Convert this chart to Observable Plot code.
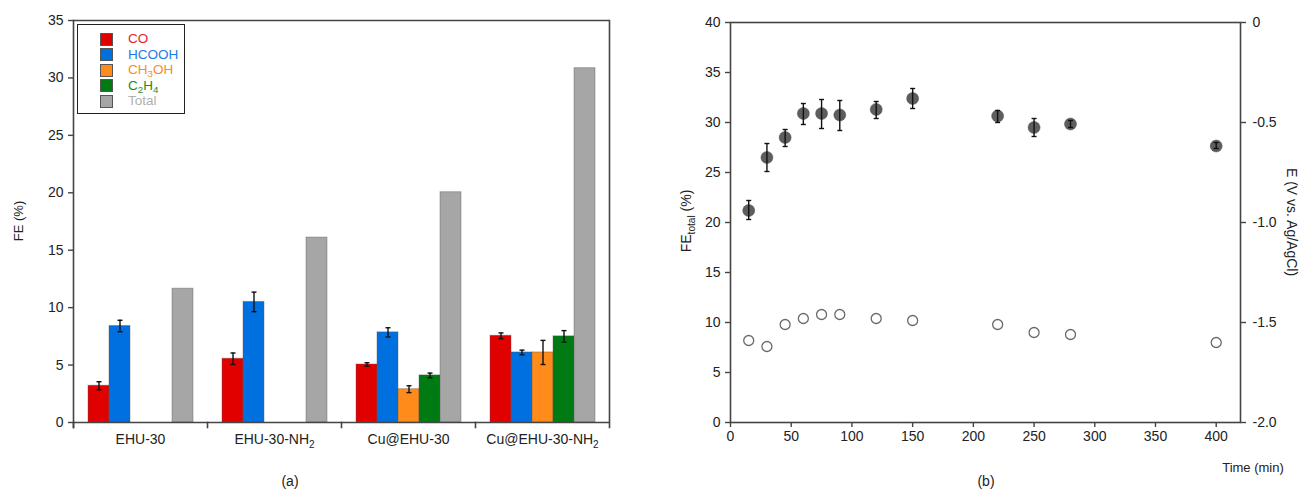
<!DOCTYPE html>
<html>
<head>
<meta charset="utf-8">
<script src="https://cdn.jsdelivr.net/npm/d3@7"></script>
<script src="https://cdn.jsdelivr.net/npm/@observablehq/plot@0.6"></script>
<style>
  html, body { margin: 0; padding: 0; background: #fff; }
  #wrap { position: relative; width: 1299px; height: 492px; font-family: "Liberation Sans", Arial, sans-serif; color: #222; }
  #wrap > .panel { position: absolute; top: 0; }
  .lbl { position: absolute; font-size: 13px; white-space: nowrap; line-height: 1; }
  sub { font-size: 0.72em; vertical-align: -0.35em; line-height: 0; }
  #legend { position: absolute; left: 77px; top: 24px; width: 108px; height: 90px; border: 1.5px solid #222; background: #fff; box-sizing: border-box; font-size: 13.5px; }
  #legend .row { position: absolute; left: 0; height: 14px; display: flex; align-items: center; }
  #legend .sw { position: absolute; left: 22px; width: 11px; height: 11px; border: 1px solid #555; }
  #legend .tx { position: absolute; left: 50px; line-height: 1; white-space: nowrap; }
</style>
</head>
<body>
<div id="wrap"></div>
<script>
// ---------- Data: panel (a) ----------
const categories = ["EHU-30", "EHU-30-NH₂", "Cu@EHU-30", "Cu@EHU-30-NH₂"];
const products = ["CO", "HCOOH", "CH₃OH", "C₂H₄", "Total"];
const feCO     = [3.2, 5.55, 5.05, 7.55];
const errCO    = [0.35, 0.5, 0.15, 0.25];
const feHCOOH  = [8.4, 10.5, 7.85, 6.1];
const errHCOOH = [0.5, 0.85, 0.4, 0.2];
const feCH3OH  = [null, null, 2.9, 6.1];
const errCH3OH = [null, null, 0.3, 1.05];
const feC2H4   = [null, null, 4.1, 7.5];
const errC2H4  = [null, null, 0.2, 0.5];
const feTotal  = [11.65, 16.1, 20.05, 30.85];

// ---------- Data: panel (b) ----------
const timeMin   = [15, 30, 45, 60, 75, 90, 120, 150, 220, 250, 280, 400];
const feTotalT  = [21.2, 26.5, 28.5, 30.9, 30.9, 30.75, 31.3, 32.4, 30.65, 29.5, 29.85, 27.65];
const feTotLow  = [20.3, 25.1, 27.6, 29.8, 29.4, 29.2, 30.4, 31.4, 30.0, 28.6, 29.5, 27.4];
const feTotHigh = [22.2, 27.9, 29.3, 31.9, 32.3, 32.2, 32.1, 33.4, 31.2, 30.4, 30.2, 28.0];
const potentialE = [-1.59, -1.62, -1.51, -1.48, -1.46, -1.46, -1.48, -1.49, -1.51, -1.55, -1.56, -1.60];
const eTicks = [0, -0.5, -1.0, -1.5, -2.0];

// ---------- Styles ----------
const productColors = ["#e00000", "#0070e0", "#ff8c1a", "#007a12", "#a6a6a6"];
const productTextColors = ["#e8232a", "#1a7be6", "#f98b28", "#1f8a28", "#b0b0b0"];
const fontFamily = '"Liberation Sans", Arial, sans-serif';
const axisColor = "#444";

const feSeries = [feCO, feHCOOH, feCH3OH, feC2H4, feTotal];
const errSeries = [errCO, errHCOOH, errCH3OH, errC2H4, null];
const rows = [];
categories.forEach((cat, i) => products.forEach((prod, j) => {
  const fe = feSeries[j][i];
  if (fe == null) return;
  const err = errSeries[j] ? errSeries[j][i] : null;
  rows.push({cat, prod, fe, err});
}));
const errRows = rows.filter(d => d.err != null);

// horizontal cap symbol for error bars
const capSymbol = {draw(ctx, size) { const r = Math.sqrt(size / Math.PI); ctx.moveTo(-r, 0); ctx.lineTo(r, 0); }};

const wrap = document.getElementById("wrap");

// ---------- Panel (a) ----------
const plotA = Plot.plot({
  width: 650, height: 492,
  marginLeft: 73, marginRight: 41, marginTop: 20, marginBottom: 70,
  style: {fontFamily, fontSize: "14px", color: "#222", background: "transparent", overflow: "visible"},
  fx: {domain: categories, padding: 0, label: null},
  x: {domain: products, paddingInner: 0, paddingOuter: 0.625, axis: null},
  y: {domain: [0, 35], label: null},
  color: {domain: products, range: productColors},
  marks: [
    Plot.barY(rows, {fx: "cat", x: "prod", y: "fe", fill: "prod", stroke: "#555", strokeOpacity: 0.4, strokeWidth: 1}),
    Plot.ruleX(errRows, {fx: "cat", x: "prod", y1: d => d.fe - d.err, y2: d => d.fe + d.err, stroke: "#111", strokeWidth: 1.4}),
    Plot.dot(errRows, {fx: "cat", x: "prod", y: d => d.fe - d.err, symbol: capSymbol, r: 2.5, stroke: "#111", strokeWidth: 1.4}),
    Plot.dot(errRows, {fx: "cat", x: "prod", y: d => d.fe + d.err, symbol: capSymbol, r: 2.5, stroke: "#111", strokeWidth: 1.4}),
    Plot.ruleY([0], {stroke: axisColor, strokeWidth: 1.6}),
    Plot.ruleY([35], {stroke: axisColor, strokeWidth: 1.6}),
    Plot.frame({anchor: "left", facetAnchor: "left", insetBottom: -5, stroke: axisColor, strokeWidth: 1.6}),
    Plot.frame({anchor: "right", facetAnchor: "right", insetBottom: -5, stroke: axisColor, strokeWidth: 1.6}),
    Plot.frame({anchor: "left", insetTop: 402, insetBottom: -5, stroke: axisColor, strokeWidth: 1.6}),
    Plot.axisY({ticks: d3.range(0, 36, 5), tickSize: 5, tickPadding: 5, label: null, stroke: axisColor, strokeWidth: 1.4}),
    Plot.axisFx({anchor: "bottom", tickSize: 0, tickPadding: 12, label: null})
  ]
});
plotA.classList.add("panel");
plotA.style.left = "0px";
wrap.appendChild(plotA);

// ---------- Panel (b) ----------
const tRows = timeMin.map((t, i) => ({t, fe: feTotalT[i], lo: feTotLow[i], hi: feTotHigh[i], E: potentialE[i]}));
const eToFe = e => (e + 2) * 20; // right axis (E, V) mapped onto the FE scale
const plotB = Plot.plot({
  width: 649, height: 492,
  marginLeft: 80, marginRight: 59, marginTop: 22, marginBottom: 70,
  style: {fontFamily, fontSize: "14px", color: "#222", background: "transparent", overflow: "visible"},
  x: {domain: [0, 420], label: null},
  y: {domain: [0, 40], label: null},
  marks: [
    Plot.frame({stroke: axisColor, strokeWidth: 1.6}),
    Plot.axisY({anchor: "left", ticks: d3.range(0, 41, 5), tickSize: 5, tickPadding: 5, label: null, stroke: axisColor, strokeWidth: 1.4}),
    Plot.axisY({anchor: "right", ticks: eTicks.map(eToFe), tickFormat: v => { const e = v / 20 - 2; return e === 0 ? "0" : e.toFixed(1); }, tickSize: 5, tickPadding: 7, label: null, stroke: axisColor, strokeWidth: 1.4}),
    Plot.axisX({ticks: d3.range(0, 401, 50), tickSize: 5, tickPadding: 4, label: null, stroke: axisColor, strokeWidth: 1.4}),
    Plot.dot(tRows, {x: "t", y: d => eToFe(d.E), r: 5, fill: "#fff", stroke: "#6a6a6a", strokeWidth: 1.3}),
    Plot.dot(tRows, {x: "t", y: "fe", r: 6, fill: "#5e5e5e", stroke: "#505050", strokeWidth: 0.5}),
    Plot.ruleX(tRows, {x: "t", y1: "lo", y2: "hi", stroke: "#111", strokeWidth: 1.4}),
    Plot.dot(tRows, {x: "t", y: "lo", symbol: capSymbol, r: 2.5, stroke: "#111", strokeWidth: 1.4}),
    Plot.dot(tRows, {x: "t", y: "hi", symbol: capSymbol, r: 2.5, stroke: "#111", strokeWidth: 1.4})
  ]
});
plotB.classList.add("panel");
plotB.style.left = "650px";
wrap.appendChild(plotB);

// ---------- Subscript handling for SVG texts ----------
const subDigits = {"₀":"0","₁":"1","₂":"2","₃":"3","₄":"4","₅":"5","₆":"6","₇":"7","₈":"8","₉":"9"};
function toHTML(s) {
  return s.replace(/[₀-₉]+/g, m => "<sub>" + [...m].map(c => subDigits[c]).join("") + "</sub>");
}
function subscriptSVG(root) {
  root.querySelectorAll("text").forEach(el => {
    const targets = el.querySelectorAll("tspan").length ? el.querySelectorAll("tspan") : [el];
    targets.forEach(t => {
      const s = t.textContent;
      if (!/[₀-₉]/.test(s)) return;
      t.textContent = "";
      const parts = s.split(/([₀-₉]+)/).filter(p => p.length);
      let inSub = false;
      parts.forEach(p => {
        const ts = document.createElementNS("http://www.w3.org/2000/svg", "tspan");
        if (/[₀-₉]/.test(p)) {
          ts.textContent = [...p].map(c => subDigits[c]).join("");
          ts.setAttribute("font-size", "10px");
          ts.setAttribute("dy", "0.35em");
          inSub = true;
        } else {
          ts.textContent = p;
          if (inSub) { ts.setAttribute("dy", "-0.35em"); inSub = false; }
        }
        t.appendChild(ts);
      });
    });
  });
}
subscriptSVG(plotA);

// ---------- Legend ----------
const legend = document.createElement("div");
legend.id = "legend";
products.forEach((p, j) => {
  const row = document.createElement("div");
  row.className = "row";
  row.style.top = (7 + j * 15.5) + "px";
  row.innerHTML = `<span class="sw" style="background:${productColors[j]}"></span><span class="tx" style="color:${productTextColors[j]}">${toHTML(p)}</span>`;
  legend.appendChild(row);
});
wrap.appendChild(legend);

// ---------- Axis titles & panel captions ----------
function addLabel(html, cx, cy, rot, size) {
  const d = document.createElement("div");
  d.className = "lbl";
  d.innerHTML = html;
  d.style.left = cx + "px";
  d.style.top = cy + "px";
  if (size) d.style.fontSize = size + "px";
  d.style.transform = `translate(-50%, -50%) rotate(${rot}deg)`;
  wrap.appendChild(d);
}
addLabel("FE (%)", 18, 221, -90);
addLabel("FE<sub>total</sub> (%)", 686, 221, -90, 14);
addLabel("E (V vs. Ag/AgCl)", 1292, 222, 90, 14);
addLabel("Time (min)", 1253, 467, 0);
addLabel("(a)", 290, 481, 0, 14);
addLabel("(b)", 986, 481, 0, 14);
</script>
</body>
</html>
